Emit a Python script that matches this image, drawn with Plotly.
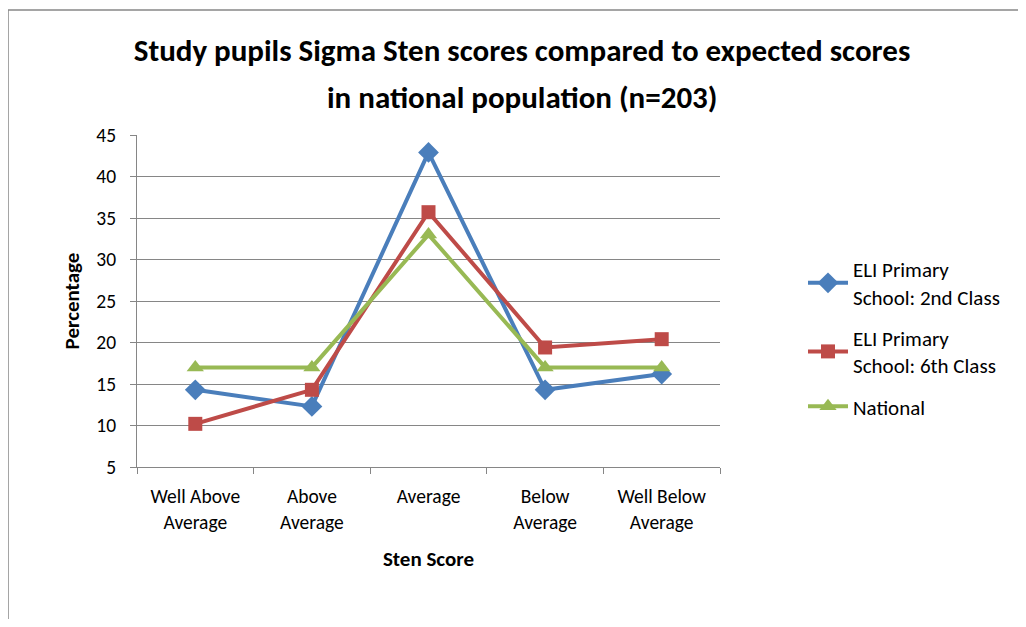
import plotly.graph_objects as go

categories = ["Well Above<br>Average", "Above<br>Average", "Average", "Below<br>Average", "Well Below<br>Average"]
second_class = [14.3, 12.3, 42.9, 14.3, 16.2]
sixth_class = [10.2, 14.3, 35.7, 19.4, 20.4]
national = [17, 17, 33, 17, 17]

FONT = "Calibri, Carlito, Lato, sans-serif"

# page body adds an 8px margin, so the figure is drawn 8px in from the window edge
W, H = 1010, 611
L, R, T, B = 129, 712, 127, 459  # plot area in figure pixels
PW, PH = R - L, B - T


def px(x):
    return (x - L) / PW


def py(y):
    return (B - y) / PH


fig = go.Figure()

fig.add_trace(go.Scatter(x=categories, y=second_class, mode='lines+markers',
                         name='ELI Primary<br>School: 2nd Class', legendgroup='a',
                         line=dict(color='#4A7EBB', width=4),
                         marker=dict(symbol='diamond', size=16, color='#4A7EBB')))
fig.add_trace(go.Scatter(x=categories, y=sixth_class, mode='lines+markers',
                         name='ELI Primary<br>School: 6th Class', legendgroup='b',
                         line=dict(color='#BE4B48', width=4),
                         marker=dict(symbol='square', size=14, color='#BE4B48')))
fig.add_trace(go.Scatter(x=categories, y=national, mode='lines+markers',
                         name='National', legendgroup='c',
                         line=dict(color='#98B954', width=4),
                         marker=dict(symbol='triangle-up', size=15, color='#98B954')))

fig.update_xaxes(type='category', range=[-0.5, 4.5], showgrid=False,
                 showline=True, linecolor='#868686', linewidth=1,
                 ticks='outside', tickson='boundaries', ticklen=6, tickcolor='#868686',
                 ticklabelstandoff=12,
                 tickfont=dict(size=19.5, color='black', family=FONT),
                 title=dict(text='<b>Sten Score</b>', font=dict(size=21, color='black', family=FONT), standoff=18))
fig.update_yaxes(range=[5, 45], dtick=5, showgrid=True, gridcolor='#868686', gridwidth=1,
                 showline=True, linecolor='#868686', linewidth=1,
                 ticks='outside', ticklen=6, tickcolor='#868686',
                 ticklabelstandoff=10,
                 tickfont=dict(size=19.5, color='black', family=FONT),
                 title=dict(text='<b>Percentage</b>', font=dict(size=21, color='black', family=FONT), standoff=10),
                 zeroline=False)

fig.update_layout(
    width=W, height=H,
    margin=dict(l=L, r=W - R, t=T, b=H - B),
    plot_bgcolor='white', paper_bgcolor='white',
    font=dict(family=FONT, color='black'),
    title=dict(text='<b>Study pupils Sigma Sten scores compared to expected scores</b>',
               x=(522 - 8) / W, xanchor='center', y=1 - 42 / H, yanchor='middle',
               font=dict(size=31, color='black', family=FONT)),
    legend=dict(x=px(795), y=py(241), xanchor='left', yanchor='top',
                font=dict(size=21, color='black', family=FONT),
                traceorder='grouped', tracegroupgap=11, itemwidth=40, bgcolor='rgba(0,0,0,0)'),
    showlegend=True,
)

# second title line, Excel spaces the lines wider than plotly does
fig.add_annotation(text='<b>in national population (n=203)</b>', xref='paper', yref='paper',
                   x=px(514), y=py(89), xanchor='center', yanchor='middle',
                   showarrow=False, font=dict(size=31, color='black', family=FONT))

# chart area border
fig.add_shape(type='rect', xref='paper', yref='paper',
              x0=px(0), x1=px(1040), y0=py(640), y1=py(2),
              line=dict(color='#888888', width=1.5), layer='below')

fig.write_html("out.html")
